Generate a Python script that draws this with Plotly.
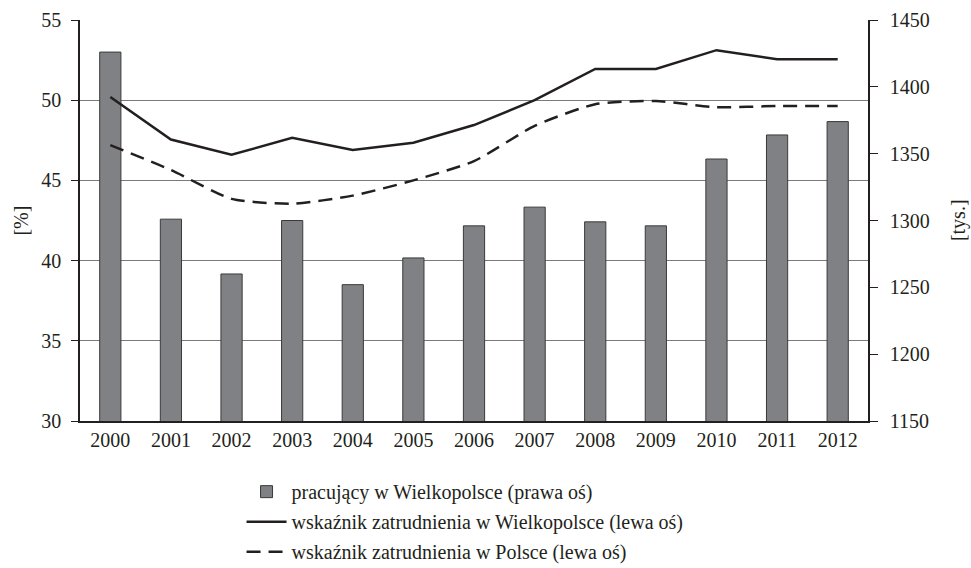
import plotly.graph_objects as go

years = ["2000", "2001", "2002", "2003", "2004", "2005", "2006",
         "2007", "2008", "2009", "2010", "2011", "2012"]
pracujacy = [1426, 1301, 1260, 1300, 1252, 1272, 1296, 1310, 1299, 1296, 1346, 1364, 1374]
wsk_wlkp = [50.2, 47.55, 46.6, 47.65, 46.9, 47.35, 48.45, 50.0, 51.95, 51.95, 53.12, 52.55, 52.55]
wsk_pl = [47.2, 45.65, 43.85, 43.55, 44.05, 45.0, 46.2, 48.4, 49.75, 49.95, 49.56, 49.64, 49.64]

left_ticks = [30, 35, 40, 45, 50, 55]
right_ticks = [1150, 1200, 1250, 1300, 1350, 1400, 1450]

FONT = "Times New Roman, Liberation Serif, serif"
TXT = "#231f20"

fig = go.Figure()
fig.add_trace(go.Bar(
    x=years, y=pracujacy, yaxis="y", width=0.35, legendgroup="a",
    marker=dict(color="#808184", line=dict(color="#3a3a3a", width=1)),
    name="pracujący w Wielkopolsce (prawa oś)",
))
fig.add_trace(go.Scatter(
    x=years, y=wsk_wlkp, yaxis="y2", mode="lines", legendgroup="b",
    line=dict(color="#231f20", width=2.5),
    name="wskaźnik zatrudnienia w Wielkopolsce (lewa oś)",
))
fig.add_trace(go.Scatter(
    x=years, y=wsk_pl, yaxis="y2", mode="lines", legendgroup="c",
    line=dict(color="#231f20", width=2.5, dash="14px,8px", shape="spline", smoothing=0.6),
    name="wskaźnik zatrudnienia w Polsce (lewa oś)",
))

fig.update_layout(
    width=971, height=568,
    margin=dict(l=80, r=103, t=20, b=147, autoexpand=False),
    paper_bgcolor="white", plot_bgcolor="white",
    font=dict(family=FONT, size=20, color=TXT),
    xaxis=dict(
        type="category", showline=True, linecolor="#231f20", linewidth=1.5,
        ticks="", showgrid=False, tickfont=dict(size=20),
    ),
    yaxis=dict(
        side="right", range=[1150, 1450], tickvals=right_ticks,
        showgrid=False, zeroline=False,
        showline=True, linecolor="#231f20", linewidth=1.5,
        ticks="outside", ticklen=8, tickcolor="#231f20", tickwidth=1,
        ticklabelstandoff=8,
    ),
    yaxis2=dict(
        overlaying="y", side="left", range=[30, 55], tickvals=left_ticks,
        showgrid=True, gridcolor="#7a7a7a", gridwidth=1, zeroline=False,
        showline=True, linecolor="#231f20", linewidth=1.5,
        ticks="outside", ticklen=7, tickcolor="#231f20", tickwidth=1,
        ticklabelstandoff=6,
    ),
    legend=dict(
        x=0.205, y=-0.1275, xanchor="left", yanchor="top",
        orientation="v", traceorder="grouped",
        font=dict(size=20, family=FONT, color=TXT),
        bgcolor="rgba(0,0,0,0)", itemwidth=40, tracegroupgap=1,
    ),
    showlegend=True,
    annotations=[
        dict(text="[%]", xref="paper", yref="paper", x=-0.076, y=0.5,
             xanchor="center", yanchor="middle", textangle=-90, showarrow=False,
             font=dict(size=20, family=FONT, color=TXT)),
        dict(text="[tys.]", xref="paper", yref="paper", x=1.115, y=0.5,
             xanchor="center", yanchor="middle", textangle=-90, showarrow=False,
             font=dict(size=20, family=FONT, color=TXT)),
    ],
)

fig.write_html("out.html", config={"displayModeBar": False},
               post_script="document.body.style.margin='0';")
